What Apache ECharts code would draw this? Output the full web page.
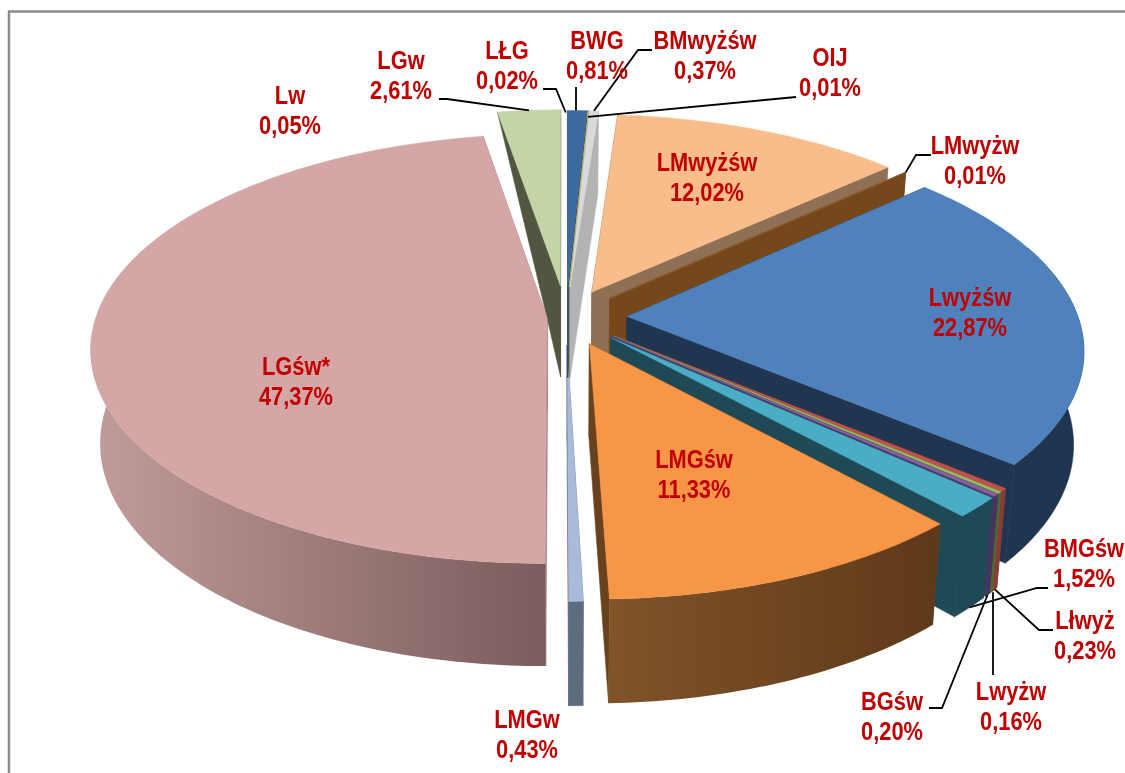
<!DOCTYPE html>
<html><head><meta charset="utf-8">
<style>html,body{margin:0;padding:0;background:#fff}#c{width:1125px;height:773px}</style>
<script src="https://cdn.jsdelivr.net/npm/echarts@6/dist/echarts.min.js"></script>
</head><body><div id="c"></div>
<script>
// ---- data, clockwise from 12 o'clock ----
const names  = ['BWG','OIJ','BMwyżśw','LMwyżśw','LMwyżw','Lwyżśw','Lłwyż','Lwyżw','BGśw','BMGśw','LMGśw','LMGw','LGśw*','Lw','LGw','LŁG'];
const values = [0.81,0.01,0.37,12.02,0.01,22.87,0.23,0.16,0.20,1.52,11.33,0.43,47.37,0.05,2.61,0.02];
const valueLabels = ['0,81%','0,01%','0,37%','12,02%','0,01%','22,87%','0,23%','0,16%','0,20%','1,52%','11,33%','0,43%','47,37%','0,05%','2,61%','0,02%'];

// ---- styling ----
const explode = [66,66,66,60,60,61,62,62,62,62,61,60,19,19,68,60];
const topColors  = ['#3D6A9C','#C7B45A','#D9D9D9','#F8BD8B','#8A5A2A','#4F81BD','#C0504D','#9BBB59','#8064A2','#4BACC6','#F79646','#A9BBDA','#D5A6A6','#FFFFFF','#C3D4A6','#FFFFFF'];
const wallColors = ['#2A4A6E','#6F7A3A','#B3B3B3','#907054','#77471C','#1F3550','#8A3A38','#55652F','#453560','#1F4A55','#6A411D','#5F6C80','#9A7777','#FFFFFF','#50563F','#FFFFFF'];
const wallGradients = {
  'LGśw*': [[96,'#C09B99'],[545,'#7A5C5C']],
  'LMGśw': [[606,'#815428'],[935,'#5E391A']]
};
const drawOrder = ['Lw','LŁG','LMGw','LGw','LGśw*','BWG','OIJ','BMwyżśw','LMwyżśw','LMwyżw','Lwyżśw','Lłwyż','Lwyżw','BGśw','BMGśw','LMGśw'];
// label centre, then optional leader [label end, elbow] and the rim it lands on
const labelLayout = {
  'Lw':      {c:[290,112]},
  'LGw':     {c:[401,77],  lead:[[439,99],[447,99]], on:[0.5,'top']},
  'LŁG':     {c:[507,67],  lead:[[543,89],[556,89]], on:[0.5,'top']},
  'BWG':     {c:[597,57],  lead:[[576,87]], on:[0.5,'top'], fixX:576},
  'BMwyżśw': {c:[705,57],  lead:[[652,50],[638,50]], on:[0.5,'top']},
  'OIJ':     {c:[830,74],  lead:[[796,97]], on:[0.5,'inner']},
  'LMwyżw':  {c:[975,162], lead:[[931,155],[916,155]], on:[0.5,'top']},
  'LMwyżśw': {c:[707,179]},
  'Lwyżśw':  {c:[970,314]},
  'LGśw*':   {c:[296,383]},
  'LMGśw':   {c:[694,476]},
  'BMGśw':   {c:[1084,565], lead:[[1048,588],[1037,588]], on:[0.5,'bottom']},
  'Lłwyż':   {c:[1085,637], lead:[[1053,630],[1039,630]], on:[0.5,'bottom']},
  'Lwyżw':   {c:[1011,708], lead:[[993,675]], on:[0.5,'bottom'], fixX:993},
  'BGśw':    {c:[892,718],  lead:[[929,708],[942,708]], on:[0.5,'bottom']},
  'LMGw':    {c:[527,736]}
};

// ---- perspective model of the tilted pie ----
const CX=566, CY=317, RX=451, RY=210, D=6.93, H=92, SHRINK=0.98, SIL=20;
const total = values.reduce((a,b)=>a+b,0);
const rad = d=>d*Math.PI/180;
let bis=0;
function project(theta, r, e){           // theta in degrees clockwise from top; r in 0..1; e = explode
  const t=rad(theta);
  const X = r*Math.sin(t)*RX + e*Math.sin(bis);
  const Y = -r*Math.cos(t) + (-e*Math.cos(bis))/RX;
  const s = D/(D-Y);
  return {x:CX+X*s, y:CY+RY*Y*s, s};
}
function topPt(theta,r,e){const p=project(theta,r,e);return [p.x,p.y];}
function botPt(theta,r,e){const p=project(theta,r,e);
  return [CX+(p.x-CX)*SHRINK, CY+(p.y-CY)*SHRINK+H*p.s];}
function arcPts(fn,a,b,e){const n=Math.max(2,Math.ceil((b-a)/1)+1),o=[];
  for(let i=0;i<n;i++){o.push(fn(a+(b-a)*i/(n-1),1,e));}return o;}

const starts=[];let acc=0;values.forEach(v=>{starts.push(acc);acc+=v;});
const FONT='"Liberation Sans",Arial,sans-serif';

function face(points,fill,stroke,z2,lw){
  return {type:'polygon',shape:{points},z2,silent:true,
    style:{fill,stroke:stroke||null,lineWidth:lw==null?0.6:lw,lineJoin:'round'}};
}
function renderItem(params,api){
  const i=params.dataIndex, name=names[i], v=api.value(0);
  const a=starts[i]/total*360, b=(starts[i]+v)/total*360, e=explode[i];
  bis=rad((a+b)/2);
  const rank=drawOrder.indexOf(name)*10+10;
  const wall=wallColors[i], topC=topColors[i];
  const kids=[];
  const apexT=topPt(0,0,e), apexB=botPt(0,0,e);
  // radial cut faces
  if(name==='LGw'){
    const bSave=bis; bis=rad((starts[12]+values[12]/2)/total*360);
    const pinkApex=topPt(0,0,explode[12]); bis=bSave;
    kids.push(face([apexT,topPt(a,1,e),pinkApex,apexB],wall,wall,rank));
  }else{
    kids.push(face([apexT,topPt(a,1,e),botPt(a,1,e),apexB],wall,wall,rank));
  }
  kids.push(face([apexT,topPt(b,1,e),botPt(b,1,e),apexB],wall,wall,rank+1));
  // outer rim: only the part facing the viewer
  const ra=Math.max(a,90-SIL), rb=Math.min(b,270+SIL);
  if(rb>ra){
    const upper=arcPts(topPt,ra,rb,e), lower=arcPts(botPt,ra,rb,e).reverse();
    let fill=wall, stroke=wall;
    if(wallGradients[name]){const g=wallGradients[name];
      fill={type:'linear',global:true,x:g[0][0],y:0,x2:g[1][0],y2:0,
        colorStops:[{offset:0,color:g[0][1]},{offset:1,color:g[1][1]}]};
      stroke=null;}
    kids.push(face(upper.concat(lower),fill,stroke,rank+2,stroke?0.6:0));
  }
  // top face
  const sliver=(b-a)<0.3;
  kids.push(face([apexT].concat(arcPts(topPt,a,b,e)),topC,topC,rank+3,sliver?0.8:0.4));

  // leader line and label
  const L=labelLayout[name];
  if(L){
    if(L.lead){
      const mid=a+(b-a)*L.on[0];
      let end=L.on[1]==='top'?topPt(mid,1,e):L.on[1]==='bottom'?botPt(mid,1,e):topPt(mid,0.96,e);
      if(L.fixX!=null) end=[L.fixX,end[1]];
      kids.push({type:'polyline',silent:true,z2:500,shape:{points:L.lead.concat([end])},
        style:{stroke:'#000',lineWidth:1.8,fill:null}});
    }
    kids.push({type:'text',silent:true,z2:600,x:L.c[0],y:L.c[1],scaleX:0.84,
      style:{text:name+'\n'+valueLabels[i],fill:'#C00000',font:'bold 26px '+FONT,
        align:'center',verticalAlign:'middle',lineHeight:30}});
  }
  return {type:'group',children:kids};
}

const chart=echarts.init(document.getElementById('c'),null,{renderer:'canvas'});
chart.setOption({
  animation:false,
  backgroundColor:'#fff',
  graphic:[{type:'polyline',z:0,shape:{points:[[9,773],[9,11.5],[1125,11.5]]},
    style:{stroke:'#8C8C8C',lineWidth:2.5,fill:null},silent:true}],
  series:[{type:'custom',coordinateSystem:'none',renderItem,silent:true,clip:false,z:5,
    data:values.map((v,i)=>({name:names[i],value:[v]}))}]
});
</script></body></html>
